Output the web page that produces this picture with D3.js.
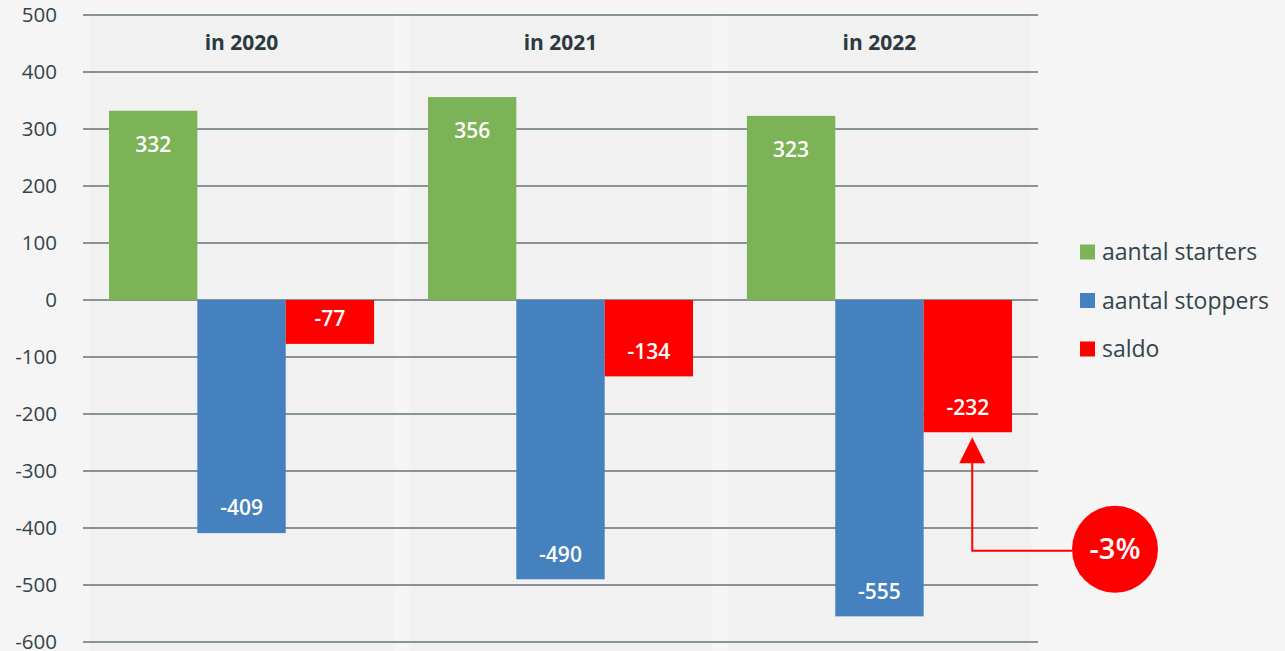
<!DOCTYPE html>
<html>
<head>
<meta charset="utf-8">
<script src="https://cdn.jsdelivr.net/npm/d3@7"></script>
<style>
  body { margin: 0; background: #f5f5f5; }
  svg { display: block; font-family: "Open Sans", sans-serif; }
</style>
</head>
<body>
<div id="chart"></div>
<script>
// Data
var years = ['in 2020', 'in 2021', 'in 2022'];
var seriesNames = ['aantal starters', 'aantal stoppers', 'saldo'];
var starters = [332, 356, 323];
var stoppers = [-409, -490, -555];
var saldo = [-77, -134, -232];
var yTicks = [500, 400, 300, 200, 100, 0, -100, -200, -300, -400, -500, -600];
var changeLabel = '-3%';

// Config
var width = 1285, height = 651;
var colors = ['#7cb356', '#4581be', '#ff0000'];
var textColor = '#34444b';

var svg = d3.select('#chart').append('svg')
  .attr('width', width)
  .attr('height', height);

svg.append('rect').attr('width', width).attr('height', height).attr('fill', '#f5f5f5');

var y = d3.scaleLinear().domain([-600, 500]).range([642, 15]);

var x = d3.scaleBand().domain(years).range([83, 1038])
  .paddingInner(0.169).paddingOuter(0.0815);

var xInner = d3.scaleBand().domain(seriesNames).range([0, x.bandwidth()]);

var values = [starters, stoppers, saldo];

// Group panels
svg.append('g').selectAll('rect')
  .data(years)
  .enter().append('rect')
    .attr('x', d => x(d) + x.bandwidth() / 2 - 151.5)
    .attr('y', y(500))
    .attr('width', 303)
    .attr('height', height - y(500))
    .attr('fill', '#f1f1f1');

// Gridlines
svg.append('g').selectAll('line')
  .data(yTicks)
  .enter().append('line')
    .attr('x1', 83).attr('x2', 1038)
    .attr('y1', d => y(d)).attr('y2', d => y(d))
    .attr('stroke', '#65737a')
    .attr('stroke-width', 1.3);

// Y tick labels
svg.append('g').selectAll('text')
  .data(yTicks)
  .enter().append('text')
    .attr('x', 57)
    .attr('y', d => y(d))
    .attr('dy', '0.35em')
    .attr('text-anchor', 'end')
    .attr('fill', textColor)
    .attr('font-size', 20.5)
    .text(d => d);

// Group titles
svg.append('g').selectAll('text')
  .data(years)
  .enter().append('text')
    .attr('x', d => x(d) + x.bandwidth() / 2)
    .attr('y', 43)
    .attr('dy', '0.35em')
    .attr('text-anchor', 'middle')
    .attr('fill', '#2b3a40')
    .attr('font-size', 21)
    .attr('font-weight', 'bold')
    .text(d => d);

// Bars
var bars = [];
years.forEach((yr, i) => {
  seriesNames.forEach((s, j) => {
    bars.push({ year: yr, series: s, value: values[j][i], color: colors[j] });
  });
});

var barG = svg.append('g');
barG.selectAll('rect')
  .data(bars)
  .enter().append('rect')
    .attr('x', d => x(d.year) + xInner(d.series))
    .attr('y', d => y(Math.max(0, d.value)))
    .attr('width', xInner.bandwidth())
    .attr('height', d => Math.abs(y(d.value) - y(0)))
    .attr('fill', d => d.color);

barG.selectAll('text')
  .data(bars)
  .enter().append('text')
    .attr('x', d => x(d.year) + xInner(d.series) + xInner.bandwidth() / 2)
    .attr('y', d => d.value > 0 ? y(d.value) + 34 : y(d.value) - 25)
    .attr('dy', '0.35em')
    .attr('text-anchor', 'middle')
    .attr('fill', '#fff')
    .attr('font-size', 21)
    .attr('font-weight', 600)
    .text(d => d.value);

// Legend
var legend = svg.append('g').selectAll('g')
  .data(seriesNames)
  .enter().append('g')
    .attr('transform', (d, i) => `translate(1080, ${252 + i * 48.5})`);
legend.append('rect')
  .attr('x', 0).attr('y', -7.5)
  .attr('width', 15).attr('height', 15)
  .attr('fill', (d, i) => colors[i]);
legend.append('text')
  .attr('x', 22).attr('dy', '0.35em')
  .attr('fill', textColor)
  .attr('font-size', 23)
  .text(d => d);

// Annotation: arrow from the change bubble to the last saldo bar
var lastYear = years[years.length - 1];
var lastSaldo = saldo[saldo.length - 1];
var arrowX = x(lastYear) + xInner('saldo') + xInner.bandwidth() * 0.55;
var tipY = y(lastSaldo) + 5;
var lineY = y(-440);
var circleX = 1115, circleR = 43;

var ann = svg.append('g');
ann.append('path')
  .attr('d', `M${circleX - circleR},${lineY} L${arrowX},${lineY} L${arrowX},${tipY + 24}`)
  .attr('fill', 'none')
  .attr('stroke', '#ff0000')
  .attr('stroke-width', 2);
ann.append('path')
  .attr('d', `M${arrowX},${tipY} L${arrowX - 13},${tipY + 26} L${arrowX + 13},${tipY + 26} Z`)
  .attr('fill', '#ff0000');
ann.append('ellipse')
  .attr('cx', circleX).attr('cy', lineY - 1.5)
  .attr('rx', circleR).attr('ry', 43.5)
  .attr('fill', '#ff0000');
ann.append('text')
  .attr('x', circleX).attr('y', lineY - 1.5)
  .attr('dy', '0.35em')
  .attr('text-anchor', 'middle')
  .attr('fill', '#fff')
  .attr('font-size', 29)
  .attr('font-weight', 600)
  .text(changeLabel);
</script>
</body>
</html>
